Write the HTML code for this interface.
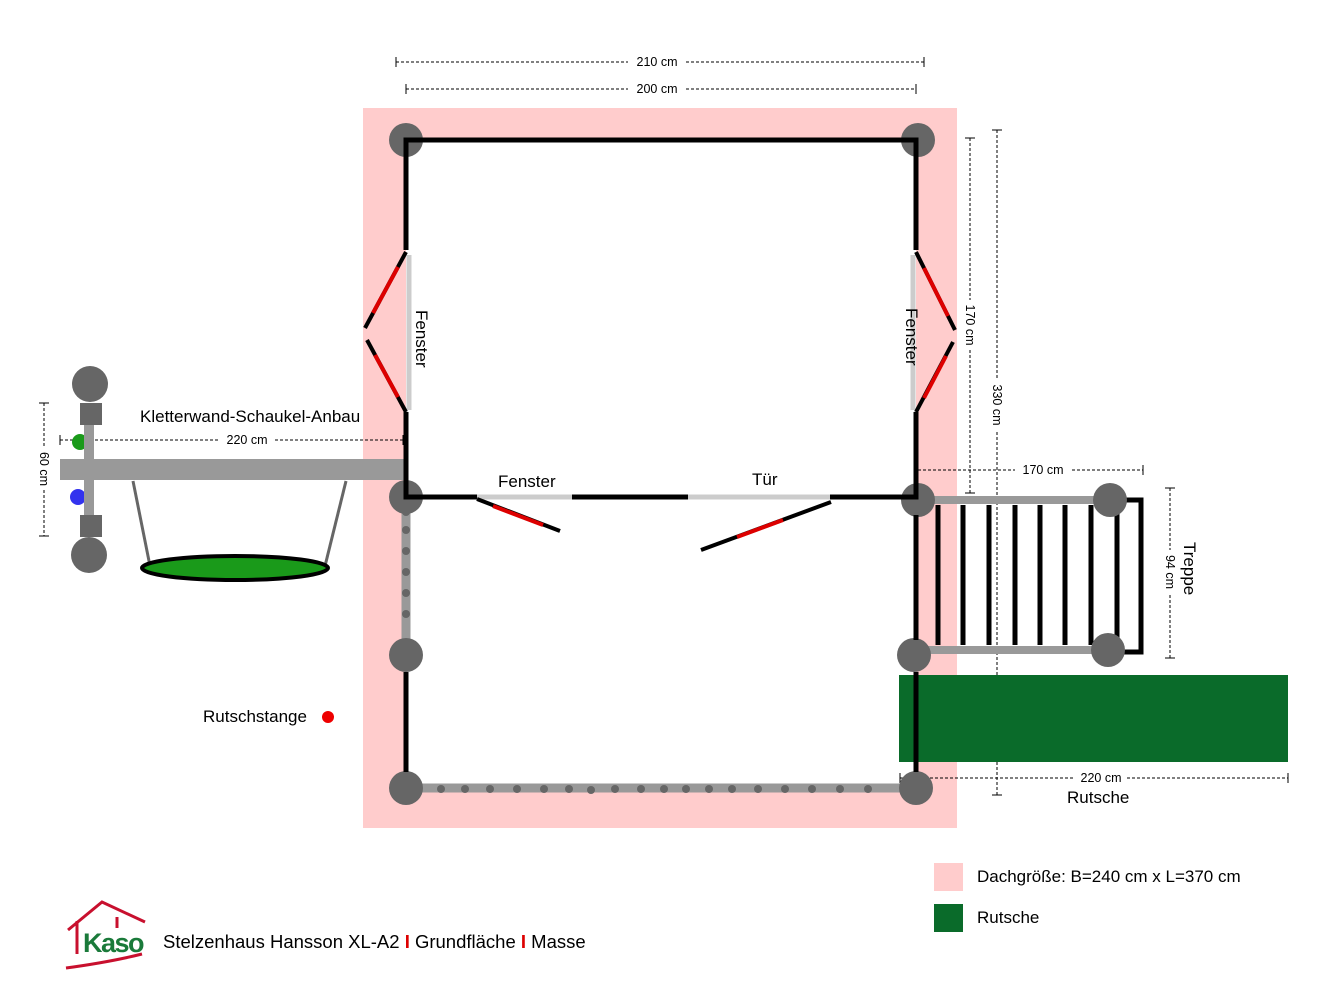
<!DOCTYPE html>
<html><head><meta charset="utf-8"><style>
html,body{margin:0;padding:0;background:#fff;}
svg{display:block;font-family:"Liberation Sans",Arial,sans-serif;}
</style></head><body>
<svg width="1333" height="1000" viewBox="0 0 1333 1000" xmlns="http://www.w3.org/2000/svg">
<rect x="0" y="0" width="1333" height="1000" fill="#fff"/>
<rect x="363" y="108" width="594" height="720" fill="#ffcccc"/>
<rect x="406" y="140" width="510" height="648" fill="#fff"/>

<g stroke="#000" stroke-width="1" fill="none">
<line x1="396" y1="62" x2="628" y2="62" stroke-dasharray="3,2"/><line x1="686" y1="62" x2="924" y2="62" stroke-dasharray="3,2"/>
<line x1="396" y1="57" x2="396" y2="67"/><line x1="924" y1="57" x2="924" y2="67"/>
<line x1="406" y1="89" x2="628" y2="89" stroke-dasharray="3,2"/><line x1="686" y1="89" x2="916" y2="89" stroke-dasharray="3,2"/>
<line x1="406" y1="84" x2="406" y2="94"/><line x1="916" y1="84" x2="916" y2="94"/>
<line x1="997" y1="130" x2="997" y2="378" stroke-dasharray="3,2"/><line x1="997" y1="432" x2="997" y2="795" stroke-dasharray="3,2"/>
<line x1="992" y1="130" x2="1002" y2="130"/><line x1="992" y1="795" x2="1002" y2="795"/>
<line x1="970" y1="138" x2="970" y2="300" stroke-dasharray="3,2"/><line x1="970" y1="350" x2="970" y2="493" stroke-dasharray="3,2"/>
<line x1="965" y1="138" x2="975" y2="138"/><line x1="965" y1="493" x2="975" y2="493"/>
<line x1="918" y1="470" x2="1015" y2="470" stroke-dasharray="3,2"/><line x1="1072" y1="470" x2="1143" y2="470" stroke-dasharray="3,2"/>
<line x1="1143" y1="465" x2="1143" y2="475"/>
<line x1="1170" y1="488" x2="1170" y2="550" stroke-dasharray="3,2"/><line x1="1170" y1="595" x2="1170" y2="658" stroke-dasharray="3,2"/>
<line x1="1165" y1="488" x2="1175" y2="488"/><line x1="1165" y1="658" x2="1175" y2="658"/>
<line x1="900" y1="778" x2="1075" y2="778" stroke-dasharray="3,2"/><line x1="1127" y1="778" x2="1288" y2="778" stroke-dasharray="3,2"/>
<line x1="900" y1="773" x2="900" y2="783"/><line x1="1288" y1="773" x2="1288" y2="783"/>
<line x1="60" y1="440" x2="220" y2="440" stroke-dasharray="3,2"/><line x1="275" y1="440" x2="403" y2="440" stroke-dasharray="3,2"/>
<line x1="60" y1="435" x2="60" y2="445"/><line x1="403" y1="435" x2="403" y2="445"/>
<line x1="44" y1="403" x2="44" y2="448" stroke-dasharray="3,2"/><line x1="44" y1="490" x2="44" y2="536" stroke-dasharray="3,2"/>
<line x1="39" y1="403" x2="49" y2="403"/><line x1="39" y1="536" x2="49" y2="536"/>
</g>
<g font-size="12.5" fill="#000">
<text x="657" y="66" text-anchor="middle">210 cm</text>
<text x="657" y="93" text-anchor="middle">200 cm</text>
<text x="1043" y="474" text-anchor="middle">170 cm</text>
<text x="1101" y="782" text-anchor="middle">220 cm</text>
<text x="247" y="444" text-anchor="middle">220 cm</text>
<text transform="translate(993,405) rotate(90)" text-anchor="middle">330 cm</text>
<text transform="translate(966,325) rotate(90)" text-anchor="middle">170 cm</text>
<text transform="translate(1166,572) rotate(90)" text-anchor="middle">94 cm</text>
<text transform="translate(40,469) rotate(90)" text-anchor="middle">60 cm</text>
</g>

<rect x="899" y="675" width="389" height="87" fill="#0a6b2a"/>

<rect x="60" y="459" width="346" height="21" fill="#999"/>
<circle cx="80" cy="442" r="8" fill="#1a9a1a"/>
<circle cx="78" cy="497" r="8" fill="#3333ee"/>
<rect x="84" y="420" width="10" height="100" fill="#999"/>
<rect x="80" y="403" width="22" height="22" fill="#666"/>
<rect x="80" y="515" width="22" height="22" fill="#666"/>
<circle cx="90" cy="384" r="18" fill="#666"/>
<circle cx="89" cy="555" r="18" fill="#666"/>
<line x1="133" y1="481" x2="150" y2="566" stroke="#666" stroke-width="3"/>
<line x1="346" y1="481" x2="325" y2="566" stroke="#666" stroke-width="3"/>
<ellipse cx="235" cy="568" rx="93" ry="12" fill="#1a9a1a" stroke="#000" stroke-width="4"/>

<line x1="406" y1="497" x2="406" y2="655" stroke="#999" stroke-width="9"/>
<g fill="#666"><circle cx="406" cy="512" r="4"/><circle cx="406" cy="530" r="4"/><circle cx="406" cy="551" r="4"/><circle cx="406" cy="572" r="4"/><circle cx="406" cy="593" r="4"/><circle cx="406" cy="614" r="4"/></g>
<line x1="406" y1="788" x2="916" y2="788" stroke="#999" stroke-width="9"/>
<g fill="#666">
<circle cx="441" cy="789" r="4"/><circle cx="465" cy="789" r="4"/><circle cx="490" cy="789" r="4"/><circle cx="517" cy="789" r="4"/><circle cx="544" cy="789" r="4"/><circle cx="569" cy="789" r="4"/><circle cx="591" cy="790" r="4"/><circle cx="615" cy="789" r="4"/><circle cx="641" cy="789" r="4"/><circle cx="664" cy="789" r="4"/><circle cx="686" cy="789" r="4"/><circle cx="709" cy="789" r="4"/><circle cx="732" cy="789" r="4"/><circle cx="758" cy="789" r="4"/><circle cx="785" cy="789" r="4"/><circle cx="812" cy="789" r="4"/><circle cx="840" cy="789" r="4"/><circle cx="868" cy="789" r="4"/></g>

<polyline points="1110,500 1141,500 1141,652 1108,652" fill="none" stroke="#000" stroke-width="5"/>
<line x1="1117" y1="505" x2="1117" y2="648" stroke="#000" stroke-width="5"/>
<g stroke="#000" stroke-width="5">
<line x1="938" y1="505" x2="938" y2="645"/><line x1="963" y1="505" x2="963" y2="645"/><line x1="989" y1="505" x2="989" y2="645"/><line x1="1015" y1="505" x2="1015" y2="645"/><line x1="1040" y1="505" x2="1040" y2="645"/><line x1="1065" y1="505" x2="1065" y2="645"/><line x1="1091" y1="505" x2="1091" y2="645"/>
</g>
<line x1="918" y1="500" x2="1110" y2="500" stroke="#999" stroke-width="8"/>
<line x1="914" y1="650" x2="1108" y2="650" stroke="#999" stroke-width="8"/>

<g fill="#666">
<circle cx="406" cy="140" r="17"/><circle cx="918" cy="140" r="17"/>
<circle cx="406" cy="497" r="17"/><circle cx="918" cy="500" r="17"/>
<circle cx="406" cy="655" r="17"/><circle cx="914" cy="655" r="17"/>
<circle cx="406" cy="788" r="17"/><circle cx="916" cy="788" r="17"/>
<circle cx="1110" cy="500" r="17"/><circle cx="1108" cy="650" r="17"/>
</g>

<g stroke="#000" stroke-width="5" fill="none">
<polyline points="406,250 406,140 916,140 916,250"/>
<polyline points="406,412 406,497 477,497"/>
<line x1="572" y1="497" x2="688" y2="497"/>
<polyline points="830,497 916,497 916,412"/>
<line x1="406" y1="672" x2="406" y2="772"/>
<line x1="916" y1="515" x2="916" y2="640"/>
<line x1="916" y1="672" x2="916" y2="772"/>
</g>
<g stroke="#ccc" stroke-width="5">
<line x1="409" y1="255" x2="409" y2="410"/>
<line x1="913" y1="255" x2="913" y2="410"/>
<line x1="477" y1="497" x2="572" y2="497"/>
<line x1="688" y1="497" x2="830" y2="497"/>
</g>
<g stroke-width="4" fill="none">
<line x1="406" y1="252" x2="365" y2="328" stroke="#000"/><line x1="398" y1="267" x2="373" y2="313" stroke="#d00"/>
<line x1="367" y1="340" x2="406" y2="412" stroke="#000"/><line x1="375" y1="355" x2="398" y2="397" stroke="#d00"/>
<line x1="916" y1="252" x2="955" y2="330" stroke="#000"/><line x1="924" y1="268" x2="948" y2="316" stroke="#d00"/>
<line x1="953" y1="342" x2="916" y2="412" stroke="#000"/><line x1="946" y1="356" x2="924" y2="398" stroke="#d00"/>
<line x1="477" y1="499" x2="560" y2="531" stroke="#000"/><line x1="493" y1="506" x2="543" y2="525" stroke="#d00"/>
<line x1="831" y1="502" x2="701" y2="550" stroke="#000"/><line x1="783" y1="520" x2="737" y2="537" stroke="#d00"/>
</g>

<g font-size="17" fill="#000">
<text transform="translate(416,310) rotate(90)">Fenster</text>
<text transform="translate(906,308) rotate(90)">Fenster</text>
<text x="498" y="487">Fenster</text>
<text x="752" y="485">Tür</text>
<text transform="translate(1184,542) rotate(90)">Treppe</text>
<text x="1067" y="803">Rutsche</text>
<text x="140" y="422">Kletterwand-Schaukel-Anbau</text>
<text x="203" y="722">Rutschstange</text>
<text x="977" y="882">Dachgröße: B=240 cm x L=370 cm</text>
<text x="977" y="923">Rutsche</text>
</g>
<circle cx="328" cy="717" r="6" fill="#e00"/>
<rect x="934" y="863" width="29" height="28" fill="#ffcccc"/>
<rect x="934" y="904" width="29" height="28" fill="#0a6b2a"/>

<g fill="none" stroke="#c8102e" stroke-width="3">
<polyline points="68,930 102,902 145,922"/>
<line x1="77" y1="921" x2="77" y2="954"/>
<line x1="117" y1="917" x2="117" y2="928"/>
<path d="M66,968 Q110,962 142,954"/>
</g>
<text x="83" y="952" font-size="27" font-weight="bold" fill="#1a7a3a" letter-spacing="-1.5">Kaso</text>
<text x="163" y="948" font-size="18.5" fill="#000">Stelzenhaus Hansson XL-A2 <tspan fill="#d00" font-weight="bold">I</tspan> Grundfläche <tspan fill="#d00" font-weight="bold">I</tspan> Masse</text>
</svg>
</body></html>
